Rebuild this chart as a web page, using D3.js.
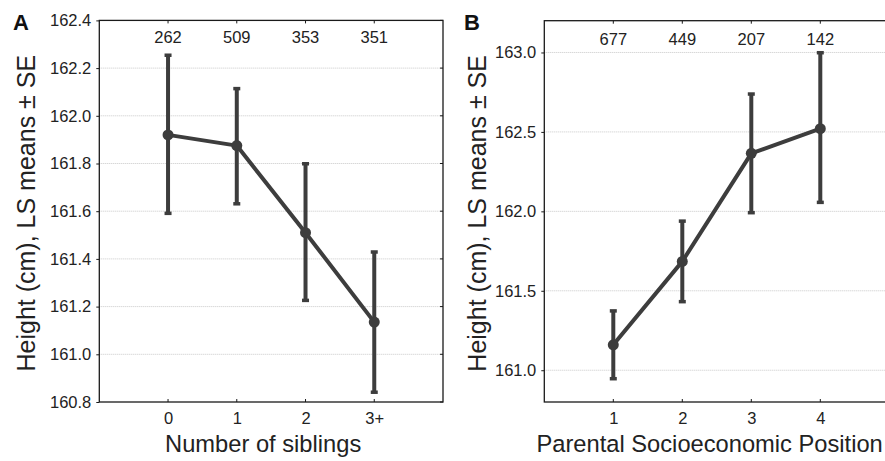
<!DOCTYPE html>
<html>
<head>
<meta charset="utf-8">
<script src="https://cdn.jsdelivr.net/npm/d3@7"></script>
<style>
  html, body { margin: 0; padding: 0; background: #fff; }
  svg { display: block; font-family: "Liberation Sans", Arial, Helvetica, sans-serif; }
</style>
</head>
<body>
<svg id="chart" width="885" height="461"></svg>
<script>
// Panel A: Number of siblings
const siblingsCategories = ["0", "1", "2", "3+"];
const siblingsN = [262, 509, 353, 351];
const siblingsMeans = [161.92, 161.875, 161.51, 161.135];
const siblingsUpper = [162.255, 162.115, 161.80, 161.43];
const siblingsLower = [161.59, 161.63, 161.225, 160.84];
const siblingsYTicks = [160.8, 161.0, 161.2, 161.4, 161.6, 161.8, 162.0, 162.2, 162.4];

// Panel B: Parental Socioeconomic Position
const sepCategories = ["1", "2", "3", "4"];
const sepN = [677, 449, 207, 142];
const sepMeans = [161.16, 161.685, 162.365, 162.52];
const sepUpper = [161.375, 161.94, 162.74, 163.0];
const sepLower = [160.945, 161.43, 161.99, 162.055];
const sepYTicks = [161.0, 161.5, 162.0, 162.5, 163.0];

const svg = d3.select("#chart");
const ink = "#3d3d3d";
const frame = "#1a1a1a";
const small = 16.5;

function panel(cfg) {
  const g = svg.append("g");
  const x = d3.scaleLinear().domain(cfg.xDomain).range([cfg.left, cfg.right]);
  const y = d3.scaleLinear().domain(cfg.yDomain).range([cfg.bottom, cfg.top]);
  const idx = cfg.categories.map((c, i) => i + cfg.xStart);

  // gridlines
  g.selectAll("line.grid").data(cfg.yTicks.filter(t => t > cfg.yDomain[0] && t < cfg.yDomain[1]))
    .enter().append("line")
    .attr("x1", cfg.left).attr("x2", cfg.right)
    .attr("y1", d => y(d)).attr("y2", d => y(d))
    .attr("stroke", "#c8c8c8").attr("stroke-width", 1)
    .attr("stroke-dasharray", "1,1");

  // left axis with ticks and labels
  const yAxis = d3.axisLeft(y).tickValues(cfg.yTicks).tickFormat(d3.format(".1f"))
    .tickSize(3).tickPadding(5);
  const ya = g.append("g").attr("transform", `translate(${cfg.left},0)`).call(yAxis);
  ya.select(".domain").remove();
  ya.selectAll("line").attr("stroke", frame);
  ya.selectAll("text").attr("font-size", small).attr("fill", "#222")
    .attr("font-family", "Liberation Sans, Arial, sans-serif");

  // right inner ticks
  g.selectAll("line.rt").data(cfg.yTicks).enter().append("line")
    .attr("x1", cfg.right - 3).attr("x2", cfg.right)
    .attr("y1", d => y(d)).attr("y2", d => y(d)).attr("stroke", frame);

  // bottom axis
  const xAxis = d3.axisBottom(x).tickValues(idx)
    .tickFormat((d, i) => cfg.categories[i]).tickSize(0).tickPadding(10);
  const xa = g.append("g").attr("transform", `translate(0,${cfg.bottom})`).call(xAxis);
  xa.select(".domain").remove();
  xa.selectAll("text").attr("font-size", small).attr("fill", "#222")
    .attr("font-family", "Liberation Sans, Arial, sans-serif");
  // inner ticks bottom and top
  g.selectAll("line.bt").data(idx).enter().append("line")
    .attr("x1", d => x(d)).attr("x2", d => x(d))
    .attr("y1", cfg.bottom - 3).attr("y2", cfg.bottom).attr("stroke", frame);
  g.selectAll("line.tt").data(idx).enter().append("line")
    .attr("x1", d => x(d)).attr("x2", d => x(d))
    .attr("y1", cfg.top).attr("y2", cfg.top + 3).attr("stroke", frame);

  // frame
  g.append("rect").attr("x", cfg.left).attr("y", cfg.top)
    .attr("width", cfg.right - cfg.left).attr("height", cfg.bottom - cfg.top)
    .attr("fill", "none").attr("stroke", frame).attr("stroke-width", 1.3);

  // N labels
  g.selectAll("text.n").data(cfg.n).enter().append("text")
    .attr("x", (d, i) => x(idx[i])).attr("y", cfg.nY)
    .attr("text-anchor", "middle").attr("font-size", small).attr("fill", "#222")
    .text(d => d);

  // error bars
  const eb = g.selectAll("g.eb").data(cfg.means).enter().append("g");
  eb.append("line")
    .attr("x1", (d, i) => x(idx[i])).attr("x2", (d, i) => x(idx[i]))
    .attr("y1", (d, i) => y(cfg.upper[i])).attr("y2", (d, i) => y(cfg.lower[i]))
    .attr("stroke", ink).attr("stroke-width", 4);
  eb.append("rect")
    .attr("x", (d, i) => x(idx[i]) - 3.5).attr("y", (d, i) => y(cfg.upper[i]) - 1.5)
    .attr("width", 7).attr("height", 3.5).attr("fill", ink);
  eb.append("rect")
    .attr("x", (d, i) => x(idx[i]) - 3.5).attr("y", (d, i) => y(cfg.lower[i]) - 2)
    .attr("width", 7).attr("height", 3.5).attr("fill", ink);

  // mean line
  const line = d3.line().x((d, i) => x(idx[i])).y(d => y(d));
  g.append("path").datum(cfg.means).attr("d", line)
    .attr("fill", "none").attr("stroke", ink).attr("stroke-width", 4)
    .attr("stroke-linejoin", "round");
  g.selectAll("circle.m").data(cfg.means).enter().append("circle")
    .attr("cx", (d, i) => x(idx[i])).attr("cy", d => y(d)).attr("r", 5.5)
    .attr("fill", ink);

  // titles
  g.append("text").attr("x", (cfg.left + Math.min(cfg.right, 885)) / 2 + cfg.xTitleShift).attr("y", 452)
    .attr("text-anchor", "middle").attr("font-size", 23.7).attr("fill", "#222")
    .text(cfg.xTitle);
  g.append("text")
    .attr("transform", `translate(${cfg.yTitleX},${(cfg.top + cfg.bottom) / 2 + 2}) rotate(-90)`)
    .attr("text-anchor", "middle").attr("font-size", 25).attr("fill", "#222")
    .text("Height (cm), LS means \u00b1 SE");
  g.append("text").attr("x", cfg.letterX).attr("y", 29.5)
    .attr("font-size", 22).attr("font-weight", "bold").attr("fill", "#111")
    .text(cfg.letter);
}

panel({
  categories: siblingsCategories, n: siblingsN, means: siblingsMeans,
  upper: siblingsUpper, lower: siblingsLower, yTicks: siblingsYTicks,
  xDomain: [-1, 4], xStart: 0, yDomain: [160.8, 162.4],
  left: 99.3, right: 443, top: 20.4, bottom: 402,
  nY: 42.5, xTitle: "Number of siblings", xTitleShift: -8, yTitleX: 35, letter: "A", letterX: 13
});

panel({
  categories: sepCategories, n: sepN, means: sepMeans,
  upper: sepUpper, lower: sepLower, yTicks: sepYTicks,
  xDomain: [0, 5], xStart: 1, yDomain: [160.8, 163.2],
  left: 544.3, right: 889.3, top: 20.7, bottom: 402,
  nY: 45, xTitle: "Parental Socioeconomic Position", xTitleShift: -5, yTitleX: 486, letter: "B", letterX: 464
});
</script>
</body>
</html>
